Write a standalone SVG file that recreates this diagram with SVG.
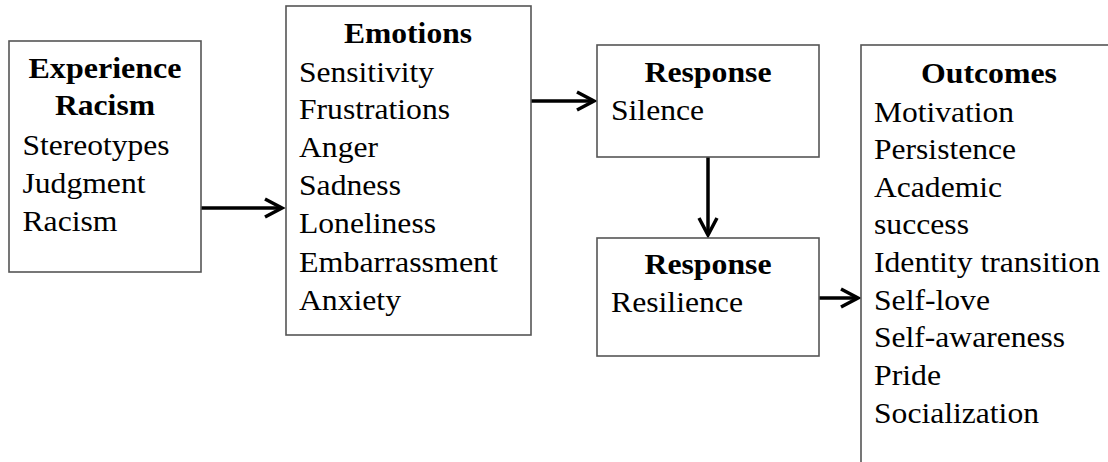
<svg xmlns="http://www.w3.org/2000/svg" width="1108" height="462" viewBox="0 0 1108 462">
<style>
.box{fill:#fff;stroke:#555;stroke-width:1.6}
text{font-family:"Liberation Serif","Times New Roman",serif;font-size:29px;fill:#000}
.t{font-weight:bold;text-anchor:middle}
.conn{stroke:#000;stroke-width:3.5;fill:none}
</style>
<defs>
<marker id="ah" viewBox="-22 -12 26 24" refX="0" refY="0" markerWidth="26" markerHeight="24" markerUnits="userSpaceOnUse" orient="auto">
<path d="M-17,-9 L0,0 L-17,9" fill="none" stroke="#000" stroke-width="3.5" stroke-linejoin="miter"/>
</marker>
</defs>
<rect width="1108" height="462" fill="#fff"/>
<g id="connectors">
<line class="conn" x1="201" y1="208" x2="282" y2="208" marker-end="url(#ah)"/>
<line class="conn" x1="531" y1="101" x2="594" y2="101" marker-end="url(#ah)"/>
<line class="conn" x1="708" y1="157" x2="708" y2="235" marker-end="url(#ah)"/>
<line class="conn" x1="819" y1="298" x2="858" y2="298" marker-end="url(#ah)"/>
</g>
<g id="experience">
<rect class="box" x="9" y="41" width="192" height="231"/>
<text class="t" x="105" y="78" textLength="153" lengthAdjust="spacingAndGlyphs">Experience</text>
<text class="t" x="105" y="115" textLength="100" lengthAdjust="spacingAndGlyphs">Racism</text>
<text x="22.5" y="155" textLength="147" lengthAdjust="spacingAndGlyphs">Stereotypes</text>
<text x="22.5" y="193" textLength="123" lengthAdjust="spacingAndGlyphs">Judgment</text>
<text x="22.5" y="231" textLength="95" lengthAdjust="spacingAndGlyphs">Racism</text>
</g>
<g id="emotions">
<rect class="box" x="286" y="6" width="245" height="329"/>
<text class="t" x="408" y="43" textLength="128" lengthAdjust="spacingAndGlyphs">Emotions</text>
<text x="299" y="82" textLength="135" lengthAdjust="spacingAndGlyphs">Sensitivity</text>
<text x="299" y="119" textLength="151" lengthAdjust="spacingAndGlyphs">Frustrations</text>
<text x="299" y="157" textLength="79" lengthAdjust="spacingAndGlyphs">Anger</text>
<text x="299" y="195" textLength="102" lengthAdjust="spacingAndGlyphs">Sadness</text>
<text x="299" y="233" textLength="137" lengthAdjust="spacingAndGlyphs">Loneliness</text>
<text x="299" y="272" textLength="199" lengthAdjust="spacingAndGlyphs">Embarrassment</text>
<text x="299" y="310" textLength="102" lengthAdjust="spacingAndGlyphs">Anxiety</text>
</g>
<g id="response-silence">
<rect class="box" x="597" y="45" width="222" height="112"/>
<text class="t" x="708" y="82" textLength="127" lengthAdjust="spacingAndGlyphs">Response</text>
<text x="611" y="120" textLength="93" lengthAdjust="spacingAndGlyphs">Silence</text>
</g>
<g id="response-resilience">
<rect class="box" x="597" y="238" width="222" height="118"/>
<text class="t" x="708" y="274" textLength="127" lengthAdjust="spacingAndGlyphs">Response</text>
<text x="611" y="312" textLength="132" lengthAdjust="spacingAndGlyphs">Resilience</text>
</g>
<g id="outcomes">
<rect class="box" x="861" y="45" width="270" height="440"/>
<text class="t" x="989" y="83" textLength="136" lengthAdjust="spacingAndGlyphs">Outcomes</text>
<text x="874" y="122" textLength="140" lengthAdjust="spacingAndGlyphs">Motivation</text>
<text x="874" y="159" textLength="142" lengthAdjust="spacingAndGlyphs">Persistence</text>
<text x="874" y="197" textLength="128" lengthAdjust="spacingAndGlyphs">Academic</text>
<text x="874" y="234" textLength="95" lengthAdjust="spacingAndGlyphs">success</text>
<text x="874" y="272" textLength="226" lengthAdjust="spacingAndGlyphs">Identity transition</text>
<text x="874" y="310" textLength="116" lengthAdjust="spacingAndGlyphs">Self-love</text>
<text x="874" y="347" textLength="191" lengthAdjust="spacingAndGlyphs">Self-awareness</text>
<text x="874" y="385" textLength="67" lengthAdjust="spacingAndGlyphs">Pride</text>
<text x="874" y="423" textLength="165" lengthAdjust="spacingAndGlyphs">Socialization</text>
</g>
</svg>
